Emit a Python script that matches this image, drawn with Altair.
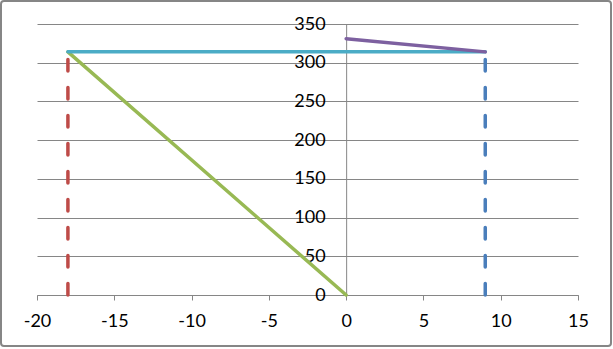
import altair as alt
import pandas as pd

# series data (x, y)
red_x = [-18, -18]
red_y = [0, 314]
blue_x = [9, 9]
blue_y = [0, 314]
green_x = [-18, 0]
green_y = [314, 0]
cyan_x = [-18, 9]
cyan_y = [314, 314]
purple_x = [0, 9]
purple_y = [331, 314]

x_ticks = [-20, -15, -10, -5, 0, 5, 10, 15]
y_ticks = [0, 50, 100, 150, 200, 250, 300, 350]

W, H = 541, 271
PAD_L, PAD_T = 37, 24
GRAY = "#868686"
FONT = "Lato"

def series_df(xs, ys):
    return pd.DataFrame({"x": xs, "y": ys, "i": list(range(len(xs)))})

xscale = alt.Scale(domain=[-20, 15], nice=False, zero=False)
yscale = alt.Scale(domain=[0, 350], nice=False, zero=False)

x_axis = alt.Axis(values=x_ticks, grid=False, domainColor=GRAY, tickColor=GRAY,
                  tickSize=5, labelFont=FONT, labelFontSize=18, labelColor="black",
                  labelPadding=12, labelExpr="'' + datum.value", labelFlush=False,
                  labelOverlap=False, title=None)
y_offset = -(20 / 35 * W)
y_axis = alt.Axis(values=y_ticks, grid=True, gridColor=GRAY, gridWidth=1,
                  domainColor=GRAY, tickColor=GRAY, tickSize=5,
                  labelFont=FONT, labelFontSize=18, labelColor="black",
                  labelPadding=16, labelFlush=False, labelOverlap=False,
                  offset=y_offset, title=None)

def line(xs, ys, color, dash=None):
    kw = dict(color=color, strokeWidth=3.5, strokeCap="round")
    if dash:
        kw["strokeDash"] = dash
    enc = dict(
        x=alt.X("x:Q", scale=xscale, axis=x_axis),
        y=alt.Y("y:Q", scale=yscale, axis=y_axis),
        order=alt.Order("i:Q"),
    )
    return alt.Chart(series_df(xs, ys)).mark_line(**kw).encode(**enc)

border = alt.Chart(pd.DataFrame({"a": [0]})).mark_rect(
    fill=None, stroke=GRAY, strokeWidth=2, cornerRadius=3
).encode(
    x=alt.value(1 - PAD_L), x2=alt.value(611 - PAD_L),
    y=alt.value(1 - PAD_T), y2=alt.value(346 - PAD_T),
)

chart = alt.layer(
    line(red_x, red_y, "#BE4B48", dash=[11.5, 16.5]),
    line(blue_x, blue_y, "#4A7EBB", dash=[11.5, 16.5]),
    line(green_x, green_y, "#98B954"),
    line(cyan_x, cyan_y, "#4BACC6"),
    line(purple_x, purple_y, "#7D60A0"),
    border,
).properties(
    width=W, height=H,
    autosize=alt.AutoSizeParams(type="none"),
    padding={"left": PAD_L, "top": PAD_T, "right": 613 - PAD_L - W, "bottom": 349 - PAD_T - H},
    background="white",
).configure_view(stroke=None)

chart.save("out.html", embed_options={"renderer": "svg", "actions": False})
